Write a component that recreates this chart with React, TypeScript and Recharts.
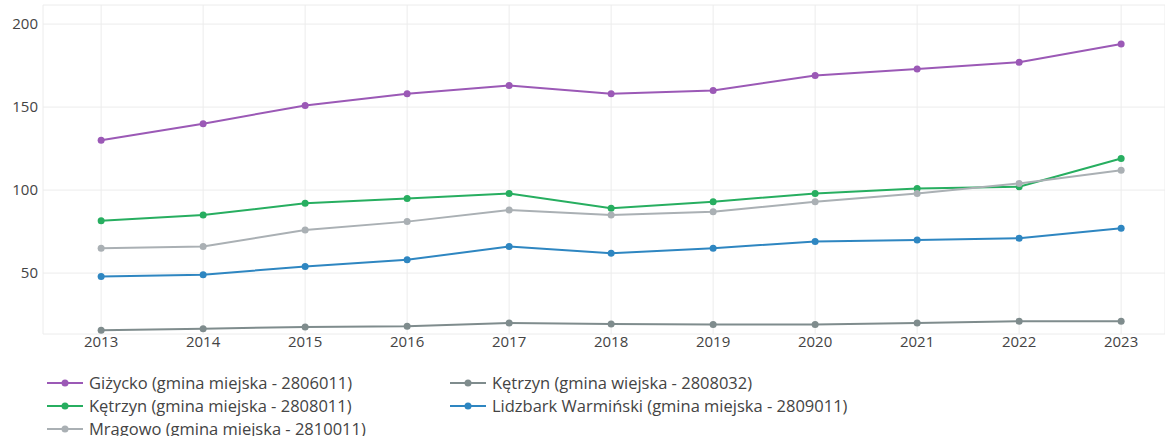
import React from 'react';
import { LineChart, Line, XAxis, YAxis, CartesianGrid, Legend } from 'recharts';

const years = [2013, 2014, 2015, 2016, 2017, 2018, 2019, 2020, 2021, 2022, 2023];
const gizycko = [130, 140, 151, 158, 163, 158, 160, 169, 173, 177, 188];
const ketrzynWiejska = [15.5, 16.5, 17.5, 18, 20, 19.3, 19, 19, 20, 21, 21];
const ketrzynMiejska = [81.5, 85, 92, 95, 98, 89, 93, 98, 101, 102, 119];
const lidzbark = [48, 49, 54, 58, 66, 62, 65, 69, 70, 71, 77];
const mragowo = [65, 66, 76, 81, 88, 85, 87, 93, 98, 104, 112];

const yTicks = [50, 100, 150, 200];

const series = [
  { key: 'gizycko', name: 'Giżycko (gmina miejska - 2806011)', color: '#9b59b6', values: gizycko },
  { key: 'ketrzynW', name: 'Kętrzyn (gmina wiejska - 2808032)', color: '#7f8c8d', values: ketrzynWiejska },
  { key: 'ketrzynM', name: 'Kętrzyn (gmina miejska - 2808011)', color: '#27ae60', values: ketrzynMiejska },
  { key: 'lidzbark', name: 'Lidzbark Warmiński (gmina miejska - 2809011)', color: '#2e86c1', values: lidzbark },
  { key: 'mragowo', name: 'Mrągowo (gmina miejska - 2810011)', color: '#aab0b4', values: mragowo },
];

const data = years.map((y, i) => {
  const row: Record<string, number> = { year: y };
  series.forEach((s) => {
    row[s.key] = s.values[i];
  });
  return row;
});

const FONT = '"Open Sans", "Noto Sans", sans-serif';

const renderLegend = () => (
  <div
    style={{
      display: 'grid',
      gridTemplateColumns: '403px 400px',
      rowGap: 0,
      paddingLeft: 47,
      fontFamily: FONT,
      fontSize: 16.5,
      color: '#444',
    }}
  >
    {series.map((s) => (
      <div key={s.key} style={{ display: 'flex', alignItems: 'center', height: 23 }}>
        <svg width={36} height={10} style={{ marginRight: 6, flexShrink: 0 }}>
          <line x1={0} y1={5} x2={36} y2={5} stroke={s.color} strokeWidth={2} />
          <circle cx={18} cy={5} r={3.5} fill={s.color} />
        </svg>
        <span style={{ whiteSpace: 'nowrap' }}>{s.name}</span>
      </div>
    ))}
  </div>
);

export default function App() {
  return (
    <div style={{ position: 'absolute', left: 0, top: 0, background: '#fff' }}>
      <LineChart
        width={1165}
        height={436}
        data={data}
        margin={{ top: 5, right: 0, left: 0, bottom: 72 }}
      >
        <CartesianGrid stroke="#ececec" strokeWidth={1} />
        <XAxis
          dataKey="year"
          type="number"
          domain={[2012.43, 2023.43]}
          ticks={years}
          allowDataOverflow
          axisLine={false}
          tickLine={false}
          tickSize={0}
          tickMargin={2}
          height={30}
          tick={{ fill: '#444', fontSize: 15, fontFamily: FONT }}
        />
        <YAxis
          type="number"
          domain={[13.3, 211.5]}
          ticks={yTicks}
          allowDataOverflow
          axisLine={false}
          tickLine={false}
          tickSize={0}
          tickMargin={5}
          width={43}
          tick={{ fill: '#444', fontSize: 15, fontFamily: FONT }}
        />
        <Legend
          layout="horizontal"
          verticalAlign="middle"
          align="center"
          content={renderLegend}
          wrapperStyle={{ top: 371, left: 0, width: 1165 }}
        />
        {series.map((s) => (
          <Line
            key={s.key}
            dataKey={s.key}
            name={s.name}
            stroke={s.color}
            strokeWidth={2}
            dot={{ r: 3.5, fill: s.color, stroke: s.color, strokeWidth: 0 }}
            activeDot={false}
            isAnimationActive={false}
          />
        ))}
      </LineChart>
    </div>
  );
}
